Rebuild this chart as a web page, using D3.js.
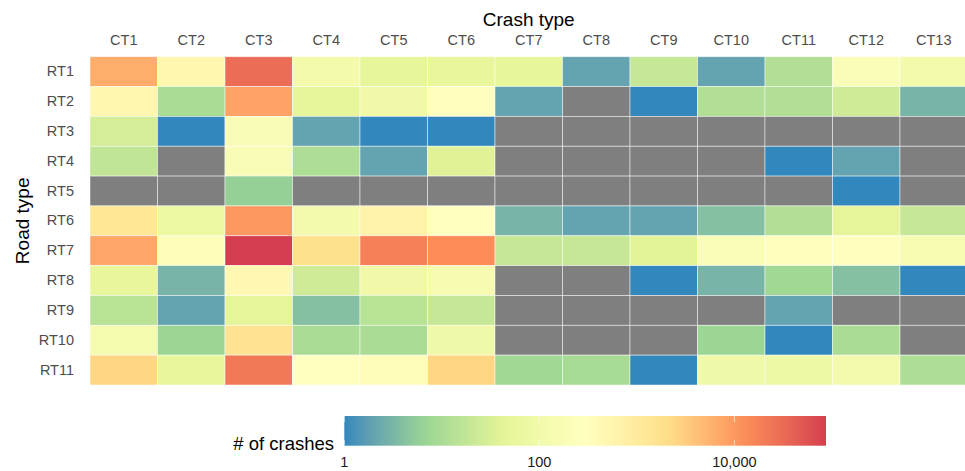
<!DOCTYPE html>
<html>
<head>
<meta charset="utf-8">
<script src="https://cdn.jsdelivr.net/npm/d3@7"></script>
<style>
  body { margin: 0; background: #fff; }
  svg { display: block; font-family: "Liberation Sans", Arial, sans-serif; }
</style>
</head>
<body>
<div id="chart"></div>
<script>
// crash types (columns) and road types (rows)
var crashTypes = ["CT1","CT2","CT3","CT4","CT5","CT6","CT7","CT8","CT9","CT10","CT11","CT12","CT13"];
var roadTypes = ["RT1","RT2","RT3","RT4","RT5","RT6","RT7","RT8","RT9","RT10","RT11"];

// number of crashes per road type, one entry per crash type (null = no data)
var rt1  = [6500, 500, 30000, 115, 50, 55, 50, 2, 20, 2, 12, 200, 115];
var rt2  = [500, 10, 8000, 50, 100, 280, 2, null, 1, 12, 12, 25, 3];
var rt3  = [28, 1, 180, 2, 1, 1, null, null, null, null, null, null, null];
var rt4  = [17, null, 180, 11, 2, 38, null, null, null, null, 1, 2, null];
var rt5  = [null, null, 6, null, null, null, null, null, null, null, null, 1, null];
var rt6  = [1300, 75, 10000, 120, 600, 300, 3, 2, 2, 4, 12, 48, 20];
var rt7  = [7500, 230, 87000, 1800, 18000, 13000, 20, 20, 40, 190, 320, 280, 160];
var rt8  = [55, 3, 450, 25, 100, 150, null, null, 1, 3, 8, 4, 1];
var rt9  = [14, 2, 48, 4, 14, 20, null, null, null, null, 2, null, null];
var rt10 = [130, 7, 1500, 10, 10, 95, null, null, null, 7, 1, 10, null];
var rt11 = [2500, 55, 22000, 300, 350, 2500, 8, 9, 1, 90, 85, 120, 11];
var counts = [rt1, rt2, rt3, rt4, rt5, rt6, rt7, rt8, rt9, rt10, rt11];

var legendTicks = [1, 100, 10000];

var width = 965, height = 471;
var margin = {top: 56.7, left: 90, bottom: 86};
var cellW = 67.5;
var plotW = cellW * crashTypes.length,
    plotH = height - margin.top - margin.bottom;

var cells = [];
roadTypes.forEach(function (r, i) {
    crashTypes.forEach(function (c, j) {
        cells.push({road: r, crash: c, value: counts[i][j]});
    });
});

var maxVal = d3.max(cells, function (d) { return d.value; });

// Spectral palette, reversed (blue = few crashes), on a log scale
var spectral = ["#3288BD", "#99D594", "#E6F598", "#FFFFBF", "#FEE08B", "#FC8D59", "#D53E4F"];
var interp = d3.piecewise(d3.interpolateLab, spectral);
var logT = d3.scaleLog().domain([1, maxVal]).range([0, 1]);
var color = function (v) {
    if (v == null) return "#7F7F7F";
    return interp(logT(v));
};

var x = d3.scaleBand().domain(crashTypes).range([margin.left, margin.left + plotW]);
var y = d3.scaleBand().domain(roadTypes).range([margin.top, margin.top + plotH]);

var svg = d3.select("#chart").append("svg")
    .attr("width", width)
    .attr("height", height);

svg.append("g")
    .attr("class", "cells")
    .selectAll("rect")
    .data(cells)
    .enter()
    .append("rect")
    .attr("x", function (d) { return x(d.crash); })
    .attr("y", function (d) { return y(d.road); })
    .attr("width", x.bandwidth())
    .attr("height", y.bandwidth())
    .attr("fill", function (d) { return color(d.value); })
    .attr("stroke", "#fff")
    .attr("stroke-opacity", 0.6)
    .attr("stroke-width", 0.8);

// column labels (top)
var xAxis = d3.axisTop(x).tickSize(0).tickPadding(12);
svg.append("g")
    .attr("transform", "translate(0," + margin.top + ")")
    .call(xAxis)
    .call(function (g) { g.select(".domain").remove(); })
    .selectAll("text")
    .attr("font-size", 14.5)
    .attr("font-family", "Liberation Sans, Arial, sans-serif")
    .attr("fill", "#4D4D4D");

// row labels (left)
var yAxis = d3.axisLeft(y).tickSize(0).tickPadding(16);
svg.append("g")
    .attr("transform", "translate(" + margin.left + ",0)")
    .call(yAxis)
    .call(function (g) { g.select(".domain").remove(); })
    .selectAll("text")
    .attr("font-size", 14.5)
    .attr("font-family", "Liberation Sans, Arial, sans-serif")
    .attr("fill", "#4D4D4D");

svg.append("text")
    .attr("x", margin.left + plotW / 2)
    .attr("y", 26)
    .attr("text-anchor", "middle")
    .attr("font-size", 19)
    .attr("fill", "#000")
    .text("Crash type");

svg.append("text")
    .attr("transform", "translate(29," + (margin.top + plotH / 2) + ") rotate(-90)")
    .attr("text-anchor", "middle")
    .attr("font-size", 19)
    .attr("fill", "#000")
    .text("Road type");

// colour bar legend
var legX = 344.3, legY = 416, legW = 826 - 344.3, legH = 29.7;
var defs = svg.append("defs");
var grad = defs.append("linearGradient")
    .attr("id", "legend-grad")
    .attr("x1", "0%").attr("x2", "100%")
    .attr("y1", "0%").attr("y2", "0%");
d3.range(0, 1.0001, 0.025).forEach(function (t) {
    grad.append("stop")
        .attr("offset", (t * 100) + "%")
        .attr("stop-color", interp(t));
});

var legScale = d3.scaleLog().domain([1, maxVal]).range([legX, legX + legW]);

svg.append("rect")
    .attr("x", legX)
    .attr("y", legY)
    .attr("width", legW)
    .attr("height", legH)
    .attr("fill", "url(#legend-grad)");

var tickG = svg.append("g").attr("class", "legend-ticks");
legendTicks.forEach(function (t) {
    var tx = legScale(t);
    tickG.append("line")
        .attr("x1", tx).attr("x2", tx)
        .attr("y1", legY).attr("y2", legY + legH / 5)
        .attr("stroke", "#fff").attr("stroke-opacity", 0.8).attr("stroke-width", 0.8);
    tickG.append("line")
        .attr("x1", tx).attr("x2", tx)
        .attr("y1", legY + legH - legH / 5).attr("y2", legY + legH)
        .attr("stroke", "#fff").attr("stroke-opacity", 0.8).attr("stroke-width", 0.8);
    tickG.append("text")
        .attr("x", tx)
        .attr("y", 466.5)
        .attr("text-anchor", "middle")
        .attr("font-size", 14.5)
        .attr("fill", "#1A1A1A")
        .text(d3.format(",")(t));
});

svg.append("text")
    .attr("x", 334)
    .attr("y", 450)
    .attr("text-anchor", "end")
    .attr("font-size", 18.5)
    .attr("fill", "#000")
    .text("# of crashes");
</script>
</body>
</html>
